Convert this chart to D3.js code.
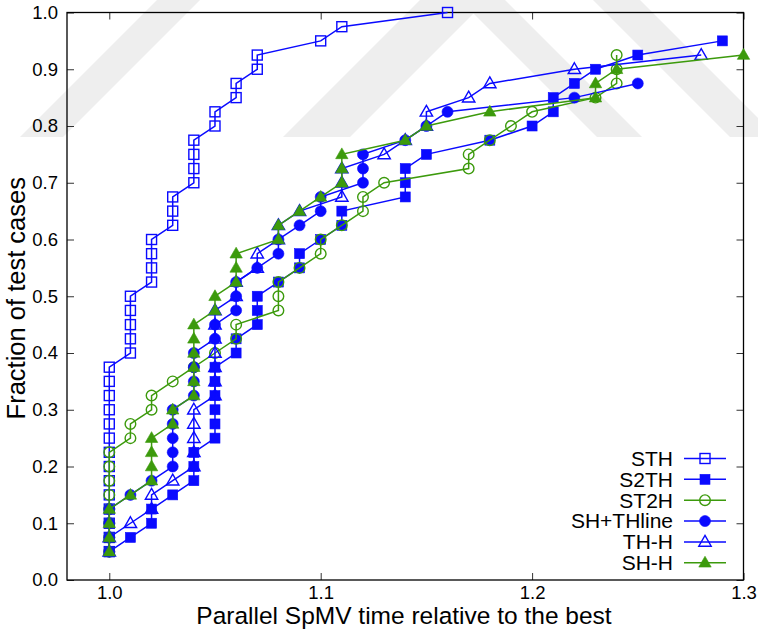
<!DOCTYPE html>
<html><head><meta charset="utf-8">
<script src="https://cdn.jsdelivr.net/npm/d3@7"></script>
<style>body{margin:0;background:#fff}svg{display:block}text{font-family:"Liberation Sans",Arial,sans-serif}</style>
</head><body>
<svg id="c" width="758" height="630"></svg>
<script>
// ---- data ----
const fractions = [0.05,0.075,0.1,0.125,0.15,0.175,0.2,0.225,0.25,0.275,0.3,0.325,0.35,0.375,0.4,0.425,0.45,0.475,0.5,0.525,0.55,0.575,0.6,0.625,0.65,0.675,0.7,0.725,0.75,0.775,0.8,0.825,0.85,0.875,0.9,0.925,0.95,0.975,1.0];
const seriesNames = ["STH","S2TH","ST2H","SH+THline","TH-H","SH-H"];
const xSTH = [1.00,1.00,1.00,1.00,1.00,1.00,1.00,1.00,1.00,1.00,1.00,1.00,1.00,1.00,1.01,1.01,1.01,1.01,1.01,1.02,1.02,1.02,1.02,1.03,1.03,1.03,1.04,1.04,1.04,1.04,1.05,1.05,1.06,1.06,1.07,1.07,1.10,1.11,1.16];
const xS2TH = [1.00,1.01,1.02,1.02,1.03,1.04,1.04,1.04,1.05,1.05,1.05,1.05,1.05,1.05,1.06,1.06,1.07,1.07,1.07,1.08,1.09,1.09,1.10,1.11,1.11,1.14,1.14,1.14,1.15,1.18,1.20,1.21,1.21,1.22,1.23,1.25,1.29];
const xST2H = [1.00,1.00,1.00,1.00,1.00,1.00,1.00,1.00,1.01,1.01,1.02,1.02,1.03,1.04,1.05,1.06,1.06,1.08,1.08,1.08,1.09,1.10,1.10,1.11,1.12,1.12,1.13,1.17,1.17,1.18,1.19,1.20,1.23,1.24,1.24,1.24];
const xSHTHline = [1.00,1.00,1.00,1.00,1.01,1.02,1.03,1.03,1.03,1.03,1.03,1.04,1.04,1.04,1.04,1.05,1.05,1.06,1.06,1.06,1.07,1.08,1.08,1.09,1.10,1.10,1.12,1.12,1.12,1.14,1.15,1.16,1.22,1.25];
const xTHH = [1.00,1.00,1.01,1.02,1.02,1.03,1.04,1.04,1.04,1.04,1.04,1.05,1.05,1.05,1.05,1.05,1.05,1.05,1.06,1.06,1.07,1.07,1.08,1.08,1.09,1.11,1.11,1.11,1.13,1.14,1.15,1.15,1.17,1.18,1.22,1.28];
const xSHH = [1.00,1.00,1.00,1.00,1.01,1.02,1.02,1.02,1.02,1.03,1.03,1.04,1.04,1.04,1.04,1.04,1.04,1.05,1.05,1.06,1.06,1.06,1.08,1.08,1.09,1.10,1.11,1.11,1.11,1.14,1.15,1.18,1.23,1.23,1.24,1.30];
const xTicks = [1.0,1.1,1.2,1.3];
const yTicks = [0.0,0.1,0.2,0.3,0.4,0.5,0.6,0.7,0.8,0.9,1.0];

// ---- styles ----
const BLUE = "#0a0aff", GREEN = "#3c9a0c";
const styles = [
  {c:BLUE, m:"square", fill:false},
  {c:BLUE, m:"square", fill:true},
  {c:GREEN, m:"circle", fill:false},
  {c:BLUE, m:"circle", fill:true},
  {c:BLUE, m:"triangle", fill:false},
  {c:GREEN, m:"triangle", fill:true}
];
const xsList = [xSTH,xS2TH,xST2H,xSHTHline,xTHH,xSHH];

const svg = d3.select("#c");
const L=67, R=743.5, T=12.5, B=580;
const x = d3.scaleLinear().domain([0.98,1.3]).range([L,R]);
const y = d3.scaleLinear().domain([0,1]).range([B,T]);

// watermark (faint)
const wm = svg.append("g").attr("fill","#eeeeee");
[[[20,137],[63,137],[200,0],[157,0]],
 [[283,137],[350,137],[487,0],[420,0]],
 [[460,0],[505,0],[642,137],[597,137]],
 [[593,0],[640,0],[758,118],[758,137],[730,137]]].forEach(p=>wm.append("polygon").attr("points",p.map(d=>d.join(",")).join(" ")));

function marker(g, type, fill, color, cx, cy){
  let el;
  if(type==="square"){
    const h = 5;
    el = g.append("rect").attr("x",cx-h).attr("y",cy-h).attr("width",2*h).attr("height",2*h);
  } else if(type==="circle"){
    el = g.append("circle").attr("cx",cx).attr("cy",cy).attr("r",fill?5.5:5.3);
  } else {
    el = g.append("path").attr("d",`M${cx},${cy-6.5}L${cx+6.2},${cy+4.3}L${cx-6.2},${cy+4.3}Z`);
  }
  if(fill) el.attr("fill",color).attr("stroke",color).attr("stroke-width",0.6);
  else el.attr("fill","none").attr("stroke",color).attr("stroke-width",1.4);
}

// axes frame & ticks
const ax = svg.append("g");
const yAxisL = d3.axisLeft(y).tickValues(yTicks).tickSize(-7).tickFormat(d3.format(".1f")).tickPadding(9);
const yAxisR = d3.axisRight(y).tickValues(yTicks).tickSize(-7).tickFormat("");
const xAxisB = d3.axisBottom(x).tickValues(xTicks).tickSize(-7).tickFormat(d3.format(".1f")).tickPadding(6);
const xAxisT = d3.axisTop(x).tickValues(xTicks).tickSize(-7).tickFormat("");
ax.append("g").attr("transform",`translate(${L},0)`).call(yAxisL);
ax.append("g").attr("transform",`translate(${R},0)`).call(yAxisR);
ax.append("g").attr("transform",`translate(0,${B})`).call(xAxisB);
ax.append("g").attr("transform",`translate(0,${T})`).call(xAxisT);
ax.selectAll(".domain").remove();
ax.selectAll(".tick line").attr("stroke","#333").attr("stroke-width",1);
ax.selectAll(".tick text").attr("font-size",18.5).attr("fill","#000").attr("font-family","Liberation Sans, Arial, sans-serif");
svg.append("rect").attr("x",L).attr("y",T).attr("width",R-L).attr("height",B-T).attr("fill","none").attr("stroke","#000").attr("stroke-width",1.3);

// series
const line = d3.line().x(d=>x(d[0])).y(d=>y(d[1]));
xsList.forEach((xs,i)=>{
  const st = styles[i];
  const pts = xs.map((v,j)=>[v,fractions[j]]);
  const g = svg.append("g");
  g.append("path").attr("d",line(pts)).attr("fill","none").attr("stroke",st.c).attr("stroke-width",1.5);
  pts.forEach(p=>marker(g,st.m,st.fill,st.c,x(p[0]),y(p[1])));
});

// legend
const lg = svg.append("g");
const legY0 = 458.5, legDy = 20.85;
seriesNames.forEach((n,i)=>{
  const st = styles[i], yy = legY0 + i*legDy;
  lg.append("text").attr("x",673).attr("y",yy).attr("dy","0.35em").attr("text-anchor","end").attr("font-size",21).text(n);
  lg.append("line").attr("x1",684).attr("x2",726).attr("y1",yy).attr("y2",yy).attr("stroke",st.c).attr("stroke-width",1.5);
  marker(lg,st.m,st.fill,st.c,705,yy);
});

// axis titles
svg.append("text").attr("x",404).attr("y",624).attr("text-anchor","middle").attr("font-size",24.5).text("Parallel SpMV time relative to the best");
svg.append("text").attr("transform",`translate(25,${(T+B)/2+2}) rotate(-90)`).attr("text-anchor","middle").attr("font-size",25.5).text("Fraction of test cases");
</script>
</body></html>
